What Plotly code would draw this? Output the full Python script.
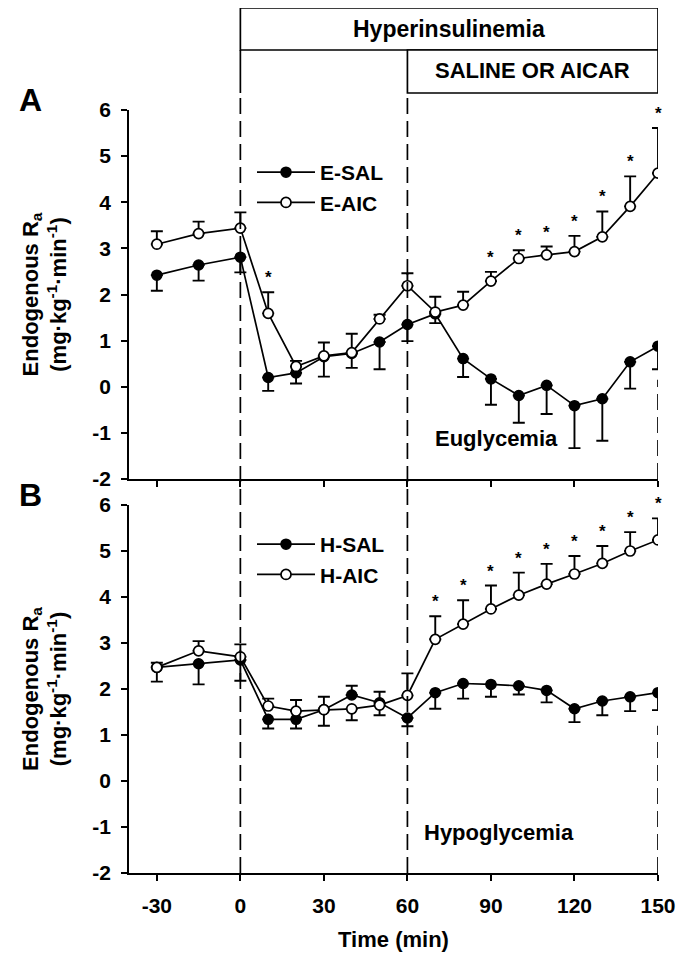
import plotly.graph_objects as go

# ---------------- data ----------------
TIME = [-30, -15, 0, 10, 20, 30, 40, 50, 60, 70, 80, 90, 100, 110, 120, 130, 140, 150]
X_TICKS = [-30, 0, 30, 60, 90, 120, 150]
X_TICK_TEXT = ["-30", "0", "30", "60", "90", "120", "150"]
Y_TICKS = [-2, -1, 0, 1, 2, 3, 4, 5, 6]
Y_TICK_TEXT = ["-2", "-1", "0", "1", "2", "3", "4", "5", "6"]

# Panel A (euglycemia)
E_SAL = [2.42, 2.64, 2.81, 0.20, 0.30, 0.65, 0.72, 0.97, 1.35, 1.58, 0.61, 0.17, -0.19, 0.03, -0.41, -0.26, 0.54, 0.88]
E_SAL_ERR_UP = [0, 0, 0, 0, 0, 0, 0, 0, 0, 0, 0, 0, 0, 0, 0, 0, 0, 0]
E_SAL_ERR_DN = [0.34, 0.34, 0.33, 0.29, 0.23, 0.43, 0.31, 0.59, 0.36, 0.20, 0.40, 0.56, 0.59, 0.62, 0.92, 0.91, 0.58, 0.50]
E_AIC = [3.09, 3.32, 3.44, 1.59, 0.44, 0.67, 0.74, 1.47, 2.19, 1.62, 1.77, 2.29, 2.78, 2.86, 2.93, 3.25, 3.91, 4.63]
E_AIC_ERR_UP = [0.28, 0.26, 0.34, 0.46, 0.12, 0.29, 0.41, 0.09, 0.27, 0.33, 0.29, 0.20, 0.18, 0.18, 0.34, 0.55, 0.65, 0.98]
E_AIC_ERR_DN = [0, 0, 0, 0, 0, 0, 0, 0, 0, 0, 0, 0, 0, 0, 0, 0, 0, 0]
E_SIG = [False, False, False, True, False, False, False, False, False, False, False, True, True, True, True, True, True, True]

# Panel B (hypoglycemia)
H_SAL = [2.47, 2.55, 2.63, 1.34, 1.34, 1.55, 1.87, 1.70, 1.37, 1.92, 2.12, 2.10, 2.07, 1.97, 1.57, 1.74, 1.83, 1.92]
H_SAL_ERR_UP = [0, 0, 0, 0, 0, 0, 0.20, 0, 0, 0, 0, 0, 0, 0, 0, 0, 0, 0]
H_SAL_ERR_DN = [0.31, 0.45, 0.45, 0.20, 0.20, 0.35, 0, 0.27, 0.18, 0.35, 0.33, 0.27, 0.19, 0.26, 0.29, 0.31, 0.31, 0.38]
H_AIC = [2.47, 2.83, 2.70, 1.63, 1.52, 1.55, 1.57, 1.65, 1.86, 3.08, 3.41, 3.74, 4.04, 4.28, 4.50, 4.73, 5.00, 5.24]
H_AIC_ERR_UP = [0.10, 0.21, 0.27, 0.16, 0.24, 0.28, 0, 0.29, 0.48, 0.50, 0.52, 0.51, 0.49, 0.44, 0.39, 0.38, 0.41, 0.47]
H_AIC_ERR_DN = [0, 0, 0, 0, 0, 0, 0.25, 0, 0, 0, 0, 0, 0, 0, 0, 0, 0, 0]
H_SIG = [False, False, False, False, False, False, False, False, False, True, True, True, True, True, True, True, True, True]

FONT = "Liberation Sans, Arial, Helvetica, sans-serif"
BOLD = dict(family=FONT, color="black", weight="bold")

# page offset (browser body margin) and plot-area geometry in page pixels
OFF = 8
PAGE_W, PAGE_H = 684, 957
LEFT_PX, RIGHT_PX, TOP_PX, BOT_PX = 129, 658, 110, 873
PW, PH = RIGHT_PX - LEFT_PX, BOT_PX - TOP_PX


def py(px):
    return (BOT_PX - px) / PH


def pxx(px):
    return (px - LEFT_PX) / PW


fig = go.Figure()
annotations = []


def add_panel(xa, ya, sal, sal_up, sal_dn, aic, aic_up, aic_dn, sig, names, legend):
    fig.add_trace(go.Scatter(
        x=TIME, y=sal, mode="lines+markers", name=names[0], legend=legend,
        xaxis=xa, yaxis=ya,
        line=dict(color="black", width=1.7),
        marker=dict(symbol="circle", size=10, color="black", line=dict(color="black", width=1.5)),
        error_y=dict(type="data", symmetric=False, array=sal_up, arrayminus=sal_dn,
                     color="black", thickness=1.9, width=6),
    ))
    fig.add_trace(go.Scatter(
        x=TIME, y=aic, mode="lines+markers", name=names[1], legend=legend,
        xaxis=xa, yaxis=ya,
        line=dict(color="black", width=1.7),
        marker=dict(symbol="circle", size=10, color="white", line=dict(color="black", width=1.7)),
        error_y=dict(type="data", symmetric=False, array=aic_up, arrayminus=aic_dn,
                     color="black", thickness=1.9, width=6),
    ))
    for t, v, e, s in zip(TIME, aic, aic_up, sig):
        if s:
            annotations.append(dict(
                text="*", xref=xa, yref=ya, x=t, y=v + e, showarrow=False,
                xanchor="center", yanchor="bottom", yshift=3,
                font=dict(family=FONT, color="black", size=17),
            ))


add_panel("x", "y", E_SAL, E_SAL_ERR_UP, E_SAL_ERR_DN, E_AIC, E_AIC_ERR_UP, E_AIC_ERR_DN,
          E_SIG, ["E-SAL", "E-AIC"], "legend")
add_panel("x2", "y2", H_SAL, H_SAL_ERR_UP, H_SAL_ERR_DN, H_AIC, H_AIC_ERR_UP, H_AIC_ERR_DN,
          H_SIG, ["H-SAL", "H-AIC"], "legend2")

axis_common = dict(
    range=[-40, 150], showline=True, linecolor="black", linewidth=1.9,
    ticks="outside", ticklen=6, tickwidth=1.9, tickcolor="black",
    showgrid=False, zeroline=False, tickvals=X_TICKS, ticktext=X_TICK_TEXT, fixedrange=True,
)
yaxis_common = dict(
    range=[-2, 6], showline=True, linecolor="black", linewidth=1.9,
    ticks="outside", ticklen=6, tickwidth=1.9, tickcolor="black",
    showgrid=False, zeroline=False, tickvals=Y_TICKS, ticktext=Y_TICK_TEXT,
    ticklabelstandoff=6, fixedrange=True,
    tickfont=dict(BOLD, size=21),
    title=dict(text="Endogenous R<sub>a</sub><br>(mg·kg<sup>-1</sup>·min<sup>-1</sup>)",
               font=dict(BOLD, size=22), standoff=19),
)

fig.update_layout(
    width=PAGE_W - OFF, height=PAGE_H - OFF,
    margin=dict(l=LEFT_PX - OFF, r=PAGE_W - RIGHT_PX, t=TOP_PX - OFF, b=PAGE_H - BOT_PX,
                autoexpand=False),
    paper_bgcolor="white", plot_bgcolor="white",
    font=dict(BOLD, size=20),
    xaxis=dict(axis_common, domain=[0, 1], anchor="y", showticklabels=False),
    yaxis=dict(yaxis_common, domain=[py(479), 1], anchor="x"),
    xaxis2=dict(axis_common, domain=[0, 1], anchor="y2", ticklabelstandoff=7,
                tickfont=dict(BOLD, size=21),
                title=dict(text="Time (min)", font=dict(BOLD, size=22), standoff=15)),
    yaxis2=dict(yaxis_common, domain=[0, py(505)], anchor="x2"),
    legend=dict(x=pxx(252), y=py(152), xanchor="left", yanchor="top", bgcolor="rgba(0,0,0,0)",
                font=dict(BOLD, size=21), tracegroupgap=0, itemwidth=58),
    legend2=dict(x=pxx(252), y=py(524), xanchor="left", yanchor="top", bgcolor="rgba(0,0,0,0)",
                 font=dict(BOLD, size=21), tracegroupgap=0, itemwidth=58),
    showlegend=True,
)

dash = "16px,7px"
shapes = [
    # header boxes
    dict(type="rect", xref="x", yref="paper", x0=0, x1=150, y0=py(50), y1=py(8),
         line=dict(color="black", width=1.7), fillcolor="white"),
    dict(type="rect", xref="x", yref="paper", x0=60, x1=150, y0=py(93), y1=py(50),
         line=dict(color="black", width=1.7), fillcolor="white"),
    dict(type="line", xref="x", yref="paper", x0=0, x1=0, y0=py(93), y1=py(50),
         line=dict(color="black", width=1.7)),
    # dashed vertical guides
    dict(type="line", xref="x", yref="paper", x0=0, x1=0, y0=0, y1=py(93),
         line=dict(color="black", width=1.7, dash=dash)),
    dict(type="line", xref="x", yref="paper", x0=60, x1=60, y0=0, y1=py(93),
         line=dict(color="black", width=1.7, dash=dash)),
    dict(type="line", xref="x", yref="y", x0=150, x1=150, y0=-2, y1=0.15,
         line=dict(color="black", width=1.7, dash=dash)),
    dict(type="line", xref="x2", yref="y2", x0=150, x1=150, y0=-2, y1=1.2,
         line=dict(color="black", width=1.7, dash=dash)),
]
fig.update_layout(shapes=shapes)

annotations += [
    dict(text="Hyperinsulinemia", xref="x", yref="paper", x=75, y=py(29), showarrow=False,
         xanchor="center", yanchor="middle", font=dict(BOLD, size=23)),
    dict(text="SALINE OR AICAR", xref="x", yref="paper", x=105, y=py(71), showarrow=False,
         xanchor="center", yanchor="middle", font=dict(BOLD, size=22)),
    dict(text="A", xref="paper", yref="paper", x=pxx(30), y=py(100), showarrow=False,
         xanchor="center", yanchor="middle", font=dict(BOLD, size=32)),
    dict(text="B", xref="paper", yref="paper", x=pxx(30), y=py(495), showarrow=False,
         xanchor="center", yanchor="middle", font=dict(BOLD, size=32)),
    dict(text="Euglycemia", xref="x", yref="y", x=92, y=-1.12, showarrow=False,
         xanchor="center", yanchor="middle", font=dict(BOLD, size=22)),
    dict(text="Hypoglycemia", xref="x2", yref="y2", x=93, y=-1.12, showarrow=False,
         xanchor="center", yanchor="middle", font=dict(BOLD, size=22)),
]
fig.update_layout(annotations=annotations)

fig.write_html("out.html")
